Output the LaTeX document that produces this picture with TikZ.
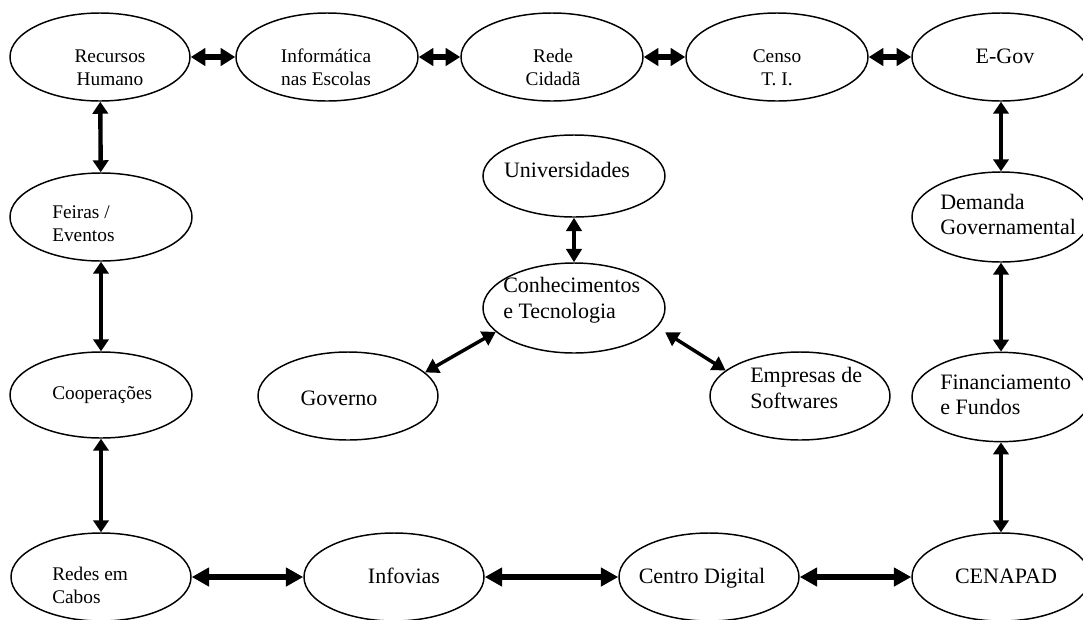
\documentclass[tikz,border=0pt]{standalone}
\usepackage{fontspec}
\setmainfont{Liberation Serif}
\usetikzlibrary{arrows.meta,shapes.geometric}
\begin{document}
\begin{tikzpicture}[x=0.75pt,y=-0.75pt,
  ell/.style={draw,ellipse,line width=1.1pt,inner sep=0pt},
  sm/.style={font=\fontsize{14.5}{17.25}\selectfont,inner sep=0pt},
  bg/.style={font=\fontsize{16.5}{18.5}\selectfont,inner sep=0pt},
  ha/.style={{Triangle[length=11pt,width=13pt]}-{Triangle[length=11pt,width=13pt]},line width=3.8pt},
  va/.style={{Triangle[length=9pt,width=11.5pt]}-{Triangle[length=9pt,width=11.5pt]},line width=3.3pt},
  ba/.style={{Triangle[length=13pt,width=13.5pt]}-{Triangle[length=13pt,width=13.5pt]},line width=4pt},
  ca/.style={{Triangle[length=10pt,width=11.5pt]}-{Triangle[length=10pt,width=11.5pt]},line width=2.6pt}]
\useasboundingbox (0,0) rectangle (1083,619);
% ellipses
\node[ell,minimum width=135pt,minimum height=66pt] (rh) at (100,57) {};
\node[ell,minimum width=136.5pt,minimum height=66pt] (inf) at (327,57) {};
\node[ell,minimum width=136.5pt,minimum height=66pt] (rc) at (552,57) {};
\node[ell,minimum width=136.5pt,minimum height=66pt] (ce) at (777,57) {};
\node[ell,minimum width=133.5pt,minimum height=66pt] (eg) at (1001,57) {};
\node[ell,minimum width=136.5pt,minimum height=66pt] (fe) at (101,217) {};
\node[ell,minimum width=136.5pt,minimum height=64.5pt] (co) at (101,395) {};
\node[ell,minimum width=135pt,minimum height=66pt] (rcab) at (101,577) {};
\node[ell,minimum width=133.5pt,minimum height=67.5pt] (dg) at (1001,217) {};
\node[ell,minimum width=133.5pt,minimum height=67pt] (fi) at (1001,397) {};
\node[ell,minimum width=133.5pt,minimum height=66pt] (cen) at (1001,577) {};
\node[ell,minimum width=135pt,minimum height=66pt] (inv) at (394,577) {};
\node[ell,minimum width=135pt,minimum height=66pt] (cd) at (709,577) {};
\node[ell,minimum width=136.5pt,minimum height=61.5pt] (un) at (574,176) {};
\node[ell,minimum width=136.5pt,minimum height=67.5pt] (ck) at (574,308) {};
\node[ell,minimum width=135pt,minimum height=66pt] (go) at (348,396) {};
\node[ell,minimum width=135pt,minimum height=66pt] (em) at (800,396) {};
% texts (base anchor = baseline of last line)
\node[sm,align=center,anchor=base] (rh-t) at (110,85) {Recursos\\Humano};
\node[sm,align=center,anchor=base] (inf-t) at (326,85) {Informática\\nas Escolas};
\node[sm,align=center,anchor=base] (rc-t) at (553,85) {Rede\\Cidadã};
\node[sm,align=center,anchor=base] (ce-t) at (777,85) {Censo\\T. I.};
\node[bg,anchor=base] (eg-t) at (1005,63) {E-Gov};
\node[sm,align=left,anchor=base west] (fe-t) at (52,241) {Feiras /\\Eventos};
\node[sm,anchor=base west] (co-t) at (52,399) {Cooperações};
\node[sm,align=left,anchor=base west] (rcab-t) at (52,603) {Redes em\\Cabos};
\node[bg,align=left,anchor=base west] (dg-t) at (940,234) {Demanda\\Governamental};
\node[bg,align=left,anchor=base west] (fi-t) at (940,414) {Financiamento\\e Fundos};
\node[bg,anchor=base] (cen-t) at (1006,583) {CENAPAD};
\node[bg,anchor=base] (un-t) at (567,177) {Universidades};
\node[bg,align=left,anchor=base west,font=\fontsize{16.5}{19.5}\selectfont] (ck-t) at (503,318) {Conhecimentos\\e Tecnologia};
\node[bg,align=left,anchor=base west,font=\fontsize{16.5}{19.5}\selectfont] (em-t) at (750,408) {Empresas de\\Softwares};
\node[bg,anchor=base] (go-t) at (339,405) {Governo};
\node[bg,anchor=base] (inv-t) at (404,583) {Infovias};
\node[bg,anchor=base] (cd-t) at (702,583) {Centro Digital};
% connectors
\draw[ha] (rh) -- (inf);
\draw[ha] (inf) -- (rc);
\draw[ha] (rc) -- (ce);
\draw[ha] (ce) -- (eg);
\draw[va] (rh) -- (fe);
\draw[va] (fe) -- (co);
\draw[va] (co) -- (rcab);
\draw[va] (eg) -- (dg);
\draw[va] (dg) -- (fi);
\draw[va] (fi) -- (cen);
\draw[ba] (rcab) -- (inv);
\draw[ba] (inv) -- (cd);
\draw[ba] (cd) -- (cen);
\draw[ca] (un) -- (ck);
\draw[ca] (go.17) -- (ck.197);
\draw[ca,shorten <=7pt] (ck.-13) -- (em.161);
\end{tikzpicture}
\end{document}
